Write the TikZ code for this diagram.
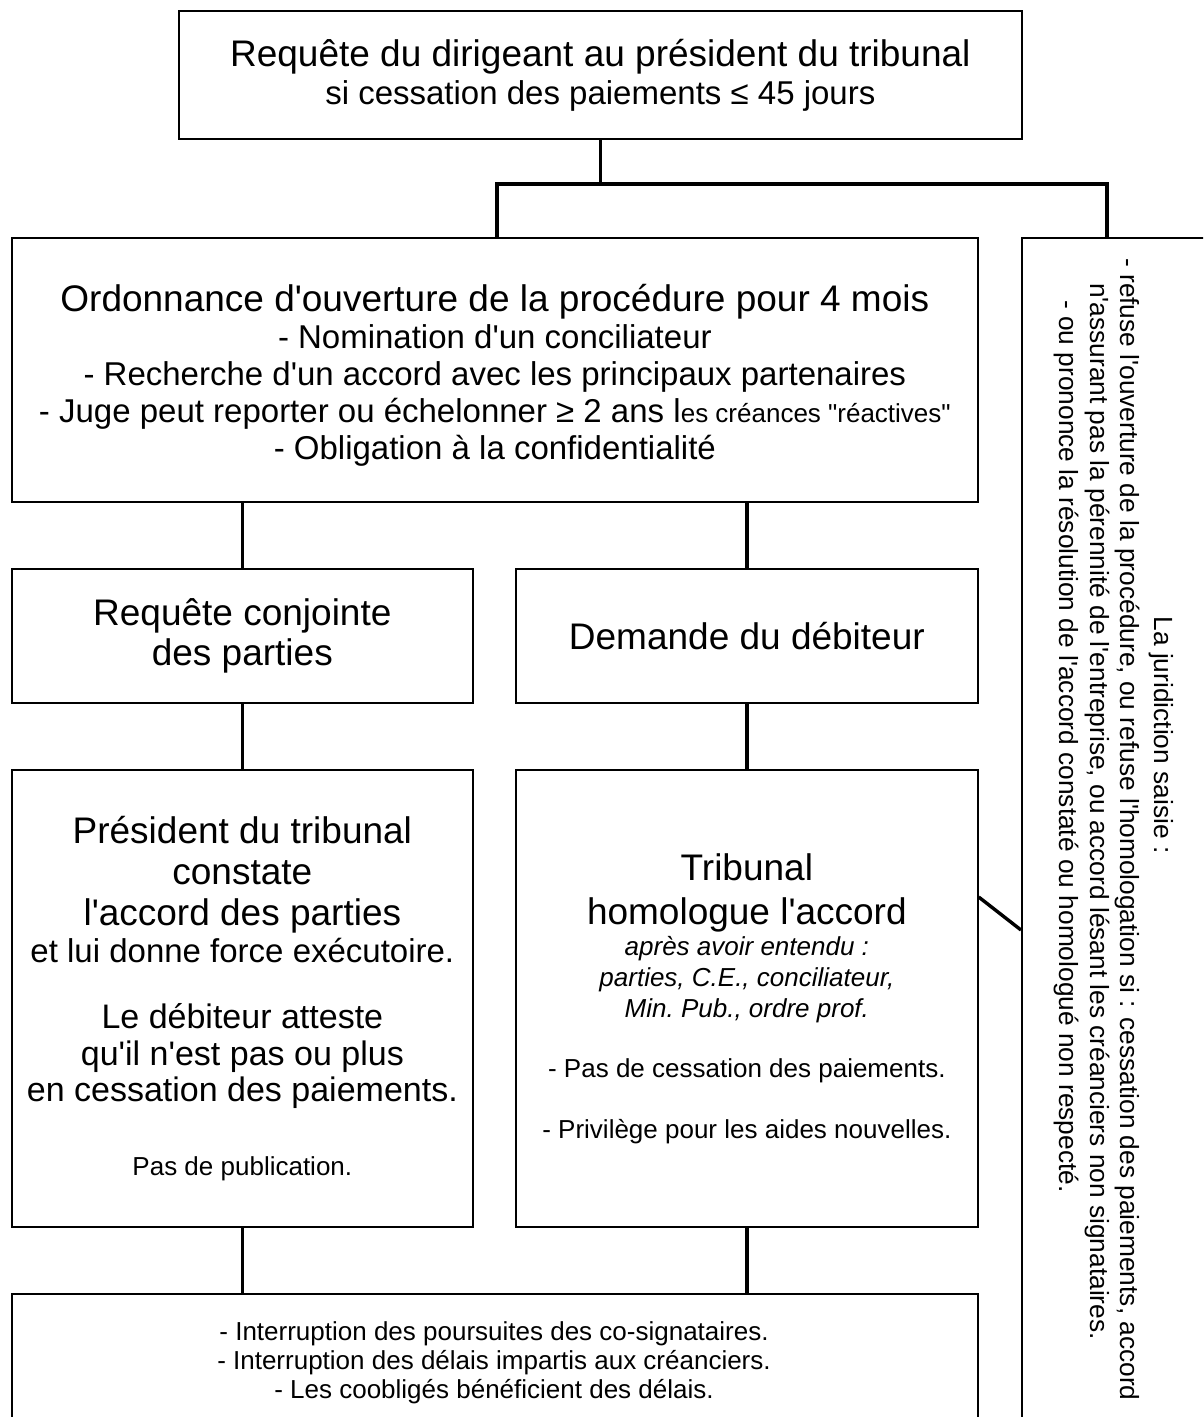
\documentclass[tikz,border=0pt]{standalone}
\usepackage{fontspec}
\newfontfamily\arial{Liberation Sans}
\usetikzlibrary{calc}
\newcommand\fL{\arial\fontsize{37}{41}\selectfont}
\newcommand\fM{\arial\fontsize{33}{37}\selectfont}
\newcommand\fS{\arial\fontsize{26}{31}\selectfont}
\newcommand\fR{\arial\fontsize{26.3}{30}\selectfont}
\newcommand\rsp{\spaceskip=0pt\xspaceskip=0pt\parindent=0pt\frenchspacing}
\begin{document}
\begin{tikzpicture}[x=1pt,y=-1pt,
  box/.style={draw, line width=1.7pt, inner sep=0pt, anchor=north west, align=flush center},
  conn/.style={line width=3.4pt},
  rtext/.style={rotate=-90, inner sep=0pt, font=\fR}]
\path[use as bounding box] (0,0) rectangle (1203,1417);
\fill[white] (0,0) rectangle (1203,1417);
\clip (0,0) rectangle (1203,1417);

\node[box, minimum width=843pt, minimum height=128pt, text width=843pt] (top) at (178,10)
  {\rsp{\fL Requête du dirigeant au président du tribunal\par}{\arial\fontsize{33}{38}\selectfont si cessation des paiements ≤ 45 jours\par}};

\node[box, minimum width=966pt, minimum height=264pt, text width=966pt] (ord) at (11,237)
  {\rsp{\fL\rule{0pt}{39pt}Ordonnance d'ouverture de la procédure pour 4 mois\par}
   {\fM - Nomination d'un conciliateur\\
    - Recherche d'un accord avec les principaux partenaires\\
    - Juge peut reporter ou échelonner ≥ 2 ans l{\fS es créances "réactives"}\\
    - Obligation à la confidentialité\par}};

\node[box, minimum width=461pt, minimum height=134pt, text width=461pt] (req) at (11,568)
  {\rsp{\arial\fontsize{37}{40.5}\selectfont Requête conjointe\\ des parties\par}};

\node[box, minimum width=462pt, minimum height=134pt, text width=462pt] (dem) at (515,568)
  {\rsp{\fL Demande du débiteur\par}};

\node[box, minimum width=461pt, minimum height=457pt, text width=461pt] (pres) at (11,769)
  {\rsp{\fL Président du tribunal\\ constate\\ l'accord des parties\par}
   {\fM et lui donne force exécutoire.\par}
   \vspace{30pt}
   {\arial\fontsize{34}{36.5}\selectfont Le débiteur atteste\\ qu'il n'est pas ou plus\\ en cessation des paiements.\par}
   \vspace{43pt}
   {\fS Pas de publication.\par}};

\node[box, minimum width=462pt, minimum height=457pt, text width=462pt] (trib) at (515,769)
  {\rsp{\arial\fontsize{37}{44}\selectfont Tribunal\\ homologue l'accord\par}
   {\fS\itshape après avoir entendu :\\ parties, C.E., conciliateur,\\ Min. Pub., ordre prof.\par}
   \vspace{29pt}
   {\fS - Pas de cessation des paiements.\par}
   \vspace{30pt}
   {\fS - Privilège pour les aides nouvelles.\par}};

\node[box, minimum width=966pt, minimum height=200pt] (bot) at (11,1293) {};
\node[inner sep=0pt, align=center, font=\arial\fontsize{26}{29}\selectfont] (bottext) at (494,1363)
  {- Interruption des poursuites des co-signataires.\\
   - Interruption des délais impartis aux créanciers.\\
   - Les coobligés bénéficient des délais.};

\node[box, minimum width=260pt, minimum height=1300pt] (right) at (1021,237) {};
\node[rtext] (rt1) at (1161,735) {La juridiction saisie :};
\node[rtext, anchor=west] (rt2) at (1127,258) {- refuse l'ouverture de la procédure, ou refuse l'homologation si : cessation des paiements, accord};
\node[rtext, anchor=west] (rt3) at (1097,283) {n'assurant pas la pérennité de l'entreprise, ou accord lésant les créanciers non signataires.};
\node[rtext, anchor=west] (rt4) at (1066,300) {- ou prononce la résolution de l'accord constaté ou homologué non respecté.};

\coordinate (jl) at (497,184);
\coordinate (jr) at (1107,184);
\draw[conn] (top.south) -- (top.south |- jl);
\draw[conn] (jl |- ord.north) -- (jl) -- (jr) -- (jr |- right.north);
\draw[conn] (req.north |- ord.south) -- (req.north);
\draw[conn] (dem.north |- ord.south) -- (dem.north);
\draw[conn] (req.south) -- (pres.north);
\draw[conn] (dem.south) -- (trib.north);
\draw[conn] (pres.south) -- (pres.south |- bot.north);
\draw[conn] (trib.south) -- (trib.south |- bot.north);
\draw[conn] ($(trib.north east)+(0,128)$) -- ($(right.north west)+(0,693)$);
\end{tikzpicture}
\end{document}
